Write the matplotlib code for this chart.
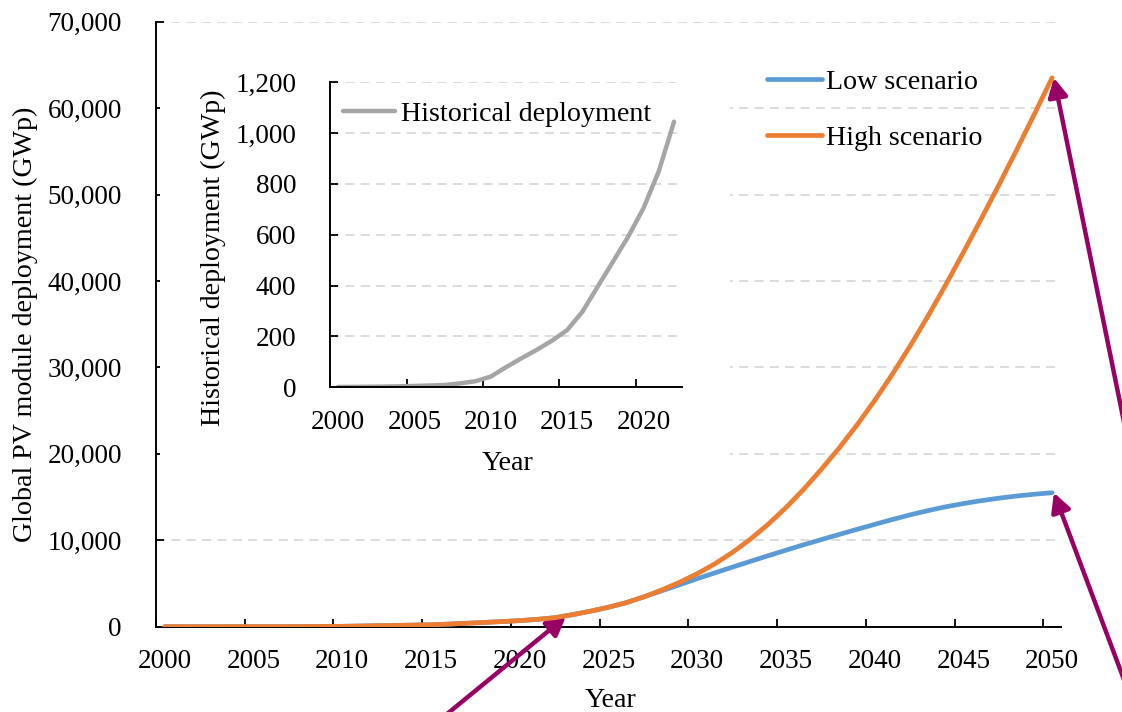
import numpy as np
import matplotlib
matplotlib.use("Agg")
import matplotlib.pyplot as plt
from matplotlib.patches import Rectangle
from matplotlib.ticker import FuncFormatter
import matplotlib.patheffects as pe

plt.rcParams['font.family'] = ['Liberation Serif', 'DejaVu Serif']

# ---- data -------------------------------------------------------------
hist_years = list(range(2000, 2023))
hist_gwp = [1.2, 1.6, 2.1, 2.8, 3.9, 5.3, 6.9, 9.2, 15.5, 24, 42, 79, 114, 147,
            183, 225, 297, 396, 494, 593, 705, 850, 1045]

proj_years = list(range(2023, 2051))
low_gwp = [1400, 1800, 2250, 2780, 3450, 4150, 4850, 5550, 6230, 6900,
           7560, 8210, 8850, 9480, 10080, 10670, 11260, 11840, 12400, 12940,
           13430, 13870, 14250, 14580, 14870, 15120, 15330, 15500]
high_gwp = [1400, 1800, 2250, 2780, 3450, 4250, 5130, 6130, 7280, 8610,
            10130, 11850, 13770, 15890, 18220, 20670, 23320, 26170, 29220, 32470,
            35920, 39540, 43300, 47170, 51110, 55160, 59310, 63510]

main_xticks = list(range(2000, 2051, 5))
main_yticks = list(range(0, 70001, 10000))
inset_xticks = list(range(2000, 2021, 5))
inset_yticks = list(range(0, 1201, 200))

years_all = hist_years + proj_years
low_all = hist_gwp + low_gwp
high_all = hist_gwp + high_gwp

# ---- styling ----------------------------------------------------------
BLUE = '#5B9BD5'
ORANGE = '#ED7D31'
GREY = '#A5A5A5'
ARROW = '#990066'
GRID = '#D9D9D9'
FS = 19.5        # tick labels
FS_TXT = 20.2    # axis titles and legends
W, H = 1122, 712

fig = plt.figure(figsize=(W / 100, H / 100), dpi=100)
thousands = FuncFormatter(lambda v, _: f'{v:,.0f}')


def style_axes(a, xt, yt, xlim, ylim):
    a.set_xlim(*xlim)
    a.set_ylim(*ylim)
    a.set_xticks(xt)
    a.set_xticks(np.arange(xlim[0], xlim[1], 5), minor=True)
    a.set_yticks(yt)
    a.yaxis.set_major_formatter(thousands)
    a.tick_params(axis='x', which='major', length=0, pad=16, labelsize=FS)
    a.tick_params(axis='x', which='minor', direction='in', length=6,
                  width=1.3, color='black')
    a.tick_params(axis='y', which='major', direction='in', length=6,
                  width=1.3, pad=24.5, labelsize=FS)
    for s in ('top', 'right'):
        a.spines[s].set_visible(False)
    for s in ('left', 'bottom'):
        a.spines[s].set_linewidth(1.4)
    a.yaxis.grid(True, color=GRID, linestyle=(0, (5, 3.5)), linewidth=1.3)
    a.set_axisbelow(True)


# ---- main chart -------------------------------------------------------
ax = fig.add_axes([155.8 / W, 1 - 626.7 / H, (1061 - 155.8) / W, (626.7 - 21.7) / H])
style_axes(ax, main_xticks, main_yticks, (1999.5, 2050.5), (0, 70000))

ax.plot(years_all, low_all, color=BLUE, lw=3.4, solid_capstyle='round',
        solid_joinstyle='round', label='Low scenario', zorder=3)
ax.plot(years_all, high_all, color=ORANGE, lw=3.4, solid_capstyle='round',
        solid_joinstyle='round', label='High scenario', zorder=4)

# white panel behind the inset chart
ax.add_patch(Rectangle((160 / W, 1 - 478 / H), (730 - 160) / W, (478 - 42) / H,
                       transform=fig.transFigure, facecolor='white',
                       edgecolor='none', zorder=1.5))

ax.set_xlabel('Year', fontsize=FS_TXT)
ax.xaxis.set_label_coords(0.5018, -0.1226)
ax.xaxis.label.set_va('center')
ax.set_ylabel('Global PV module deployment (GWp)', fontsize=FS_TXT)
ax.yaxis.set_label_coords(-0.1445, 0.5)
ax.yaxis.label.set_va('center')

ax.legend(loc='upper left', bbox_to_anchor=(767 / W, 1 - 69 / H),
          bbox_transform=fig.transFigure, frameon=False, fontsize=FS_TXT,
          handlelength=1.95, handletextpad=0.15, borderpad=0,
          borderaxespad=0, labelspacing=1.08)

# ---- inset: historical deployment -------------------------------------
axin = fig.add_axes([330.3 / W, 1 - 387.3 / H, (681.7 - 330.3) / W, (387.3 - 82.3) / H])
axin.patch.set_alpha(0)
style_axes(axin, inset_xticks, inset_yticks, (1999.5, 2022.5), (0, 1200))
axin.plot(hist_years, hist_gwp, color=GREY, lw=3.2, solid_capstyle='round',
          solid_joinstyle='round', label='Historical deployment')
axin.set_xlabel('Year', fontsize=FS_TXT)
axin.xaxis.set_label_coords(0.503, -0.2514)
axin.xaxis.label.set_va('center')
axin.set_ylabel('Historical deployment (GWp)', fontsize=FS_TXT)
axin.yaxis.set_label_coords(-0.334, 0.4256)
axin.yaxis.label.set_va('center')
axin.legend(loc='upper left', bbox_to_anchor=(343 / W, 1 - 101 / H),
            bbox_transform=fig.transFigure, frameon=False, fontsize=FS_TXT,
            handlelength=1.85, handletextpad=0.2, borderpad=0, borderaxespad=0)

# ---- call-out arrows --------------------------------------------------
arrow_props = dict(arrowstyle='-|>,head_length=0.8,head_width=0.42',
                   mutation_scale=14, lw=3.2, color=ARROW,
                   shrinkA=0, shrinkB=0,
                   path_effects=[pe.withSimplePatchShadow(offset=(1.5, -1.5),
                                                          alpha=0.25)])
ax.annotate('', xy=(2022.6, 1150), xycoords='data',
            xytext=(436 / W, 1 - 723 / H), textcoords='figure fraction',
            arrowprops=arrow_props, annotation_clip=False)
ax.annotate('', xy=(2050.1, high_all[-1]), xycoords='data',
            xytext=(1126 / W, 1 - 432 / H), textcoords='figure fraction',
            arrowprops=arrow_props, annotation_clip=False)
ax.annotate('', xy=(2050.1, low_all[-1]), xycoords='data',
            xytext=(1126 / W, 1 - 685 / H), textcoords='figure fraction',
            arrowprops=arrow_props, annotation_clip=False)

fig.savefig('out.png', dpi=100)
